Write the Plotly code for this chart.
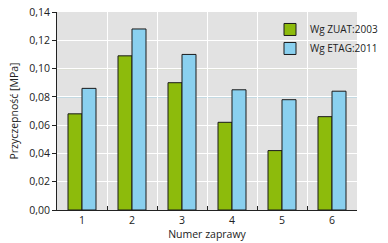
import plotly.graph_objects as go

categories = ["1", "2", "3", "4", "5", "6"]
zuat_2003 = [0.068, 0.109, 0.090, 0.062, 0.042, 0.066]
etag_2011 = [0.086, 0.128, 0.110, 0.085, 0.078, 0.084]
series_names = ["Wg ZUAT:2003", "Wg ETAG:2011"]
ref_zuat = 0.10
ref_etag = 0.08

GREEN = "#8dbb0c"
BLUE = "#8ad0ef"
FONT = "Open Sans"

fig = go.Figure()
fig.add_trace(go.Bar(x=categories, y=zuat_2003, name=series_names[0],
                     marker=dict(color=GREEN, line=dict(color="#1a1a1a", width=1))))
fig.add_trace(go.Bar(x=categories, y=etag_2011, name=series_names[1],
                     marker=dict(color=BLUE, line=dict(color="#1a1a1a", width=1))))

fig.add_shape(type="line", xref="paper", x0=0, x1=1, yref="y", y0=ref_zuat, y1=ref_zuat,
              line=dict(color="#9bb83a", width=1), layer="between")
fig.add_shape(type="line", xref="paper", x0=0, x1=1, yref="y", y0=ref_etag, y1=ref_etag,
              line=dict(color="#8ccbe3", width=1), layer="between")

fig.update_layout(
    width=388, height=243,
    margin=dict(l=57, r=5, t=9, b=33),
    paper_bgcolor="white",
    plot_bgcolor="#e2e2e2",
    separators=", ",
    font=dict(family=FONT, size=10.5, color="#222"),
    barmode="group",
    bargap=0.44,
    bargroupgap=0,
    showlegend=True,
    legend=dict(x=0.71, y=0.985, xanchor="left", yanchor="top",
                bgcolor="rgba(0,0,0,0)", font=dict(size=10, family=FONT),
                itemwidth=30, tracegroupgap=0),
)
fig.update_xaxes(
    type="category",
    tickson="boundaries",
    ticks="inside", ticklen=4, tickcolor="#222",
    showgrid=True, gridcolor="white", gridwidth=1,
    showline=True, linecolor="#222", linewidth=1,
    title=dict(text="Numer zaprawy", font=dict(size=10.5), standoff=4),
    tickfont=dict(size=10.5),
)
fig.update_yaxes(
    range=[0, 0.14], dtick=0.02, tickformat=".2f",
    ticks="outside", ticklen=4, tickcolor="#222",
    showgrid=True, gridcolor="white", gridwidth=1,
    showline=True, linecolor="#222", linewidth=1,
    zeroline=False,
    title=dict(text="Przyczepność [MPa]", font=dict(size=10.5), standoff=8),
    tickfont=dict(size=10.5),
)

fig.write_html("out.html")
